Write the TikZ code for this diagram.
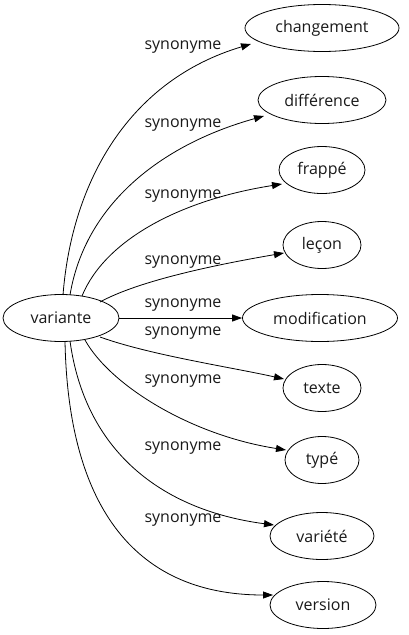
\documentclass[tikz,border=0pt]{standalone}
\usepackage{fontspec}
\setmainfont{Open Sans}
\usetikzlibrary{arrows.meta,shapes.geometric}
\begin{document}
\begin{tikzpicture}[x=1pt,y=-1pt,line width=0.8pt,
  word/.style={draw,ellipse,inner sep=0pt,font=\fontsize{16}{19}\selectfont,text=black!90},
  rel/.style={font=\fontsize{16}{19}\selectfont,text=black!90},
  arr/.style={-{Triangle[length=10pt,width=7pt]},black}]
\useasboundingbox (0,0) rectangle (409,635);
\node[word,minimum width=116,minimum height=47] (v) at (61,318) {variante};
\node[word,minimum width=154,minimum height=47] (n1) at (322,28) {changement};
\node[word,minimum width=128,minimum height=47] (n2) at (322,100) {différence};
\node[word,minimum width=86,minimum height=47] (n3) at (322,170) {frappé};
\node[word,minimum width=78,minimum height=47] (n4) at (322,245) {leçon};
\node[word,minimum width=155,minimum height=47] (n5) at (320,318) {modification};
\node[word,minimum width=78,minimum height=47] (n6) at (322,388) {texte};
\node[word,minimum width=74,minimum height=47] (n7) at (322,460) {typé};
\node[word,minimum width=104,minimum height=47] (n8) at (322,536) {variété};
\node[word,minimum width=106,minimum height=47] (n9) at (323,605) {version};
\coordinate (s1) at (63,295); \coordinate (e1) at (251,44);
\coordinate (s2) at (70,295); \coordinate (e2) at (264,116);
\coordinate (s3) at (82,296); \coordinate (e3) at (282,184);
\coordinate (s4) at (100,302); \coordinate (e4) at (284,253);
\coordinate (s6) at (100,337); \coordinate (e6) at (284,379);
\coordinate (s7) at (85,340); \coordinate (e7) at (286,450);
\coordinate (s8) at (70,341); \coordinate (e8) at (274,525);
\coordinate (s9) at (65,341); \coordinate (e9) at (273,595);
\draw[arr] (s1) .. controls (72,180) and (130,80) .. (e1);
\draw[arr] (s2) .. controls (85,205) and (160,145) .. (e2);
\draw[arr] (s3) .. controls (105,240) and (180,200) .. (e3);
\draw[arr] (s4) .. controls (140,280) and (220,264) .. (e4);
\draw[arr] (v) -- (n5);
\draw[arr] (s6) .. controls (150,355) and (230,367) .. (e6);
\draw[arr] (s7) .. controls (110,385) and (190,435) .. (e7);
\draw[arr] (s8) .. controls (85,450) and (160,510) .. (e8);
\draw[arr] (s9) .. controls (68,500) and (130,595) .. (e9);
\node[rel] (l1) at (183,47) {synonyme};
\node[rel] (l2) at (183,125) {synonyme};
\node[rel] (l3) at (183,196) {synonyme};
\node[rel] (l4) at (183,262) {synonyme};
\node[rel] (l5) at (183,305) {synonyme};
\node[rel] (l6) at (183,333) {synonyme};
\node[rel] (l7) at (183,381) {synonyme};
\node[rel] (l8) at (183,448) {synonyme};
\node[rel] (l9) at (183,520) {synonyme};
\end{tikzpicture}
\end{document}
